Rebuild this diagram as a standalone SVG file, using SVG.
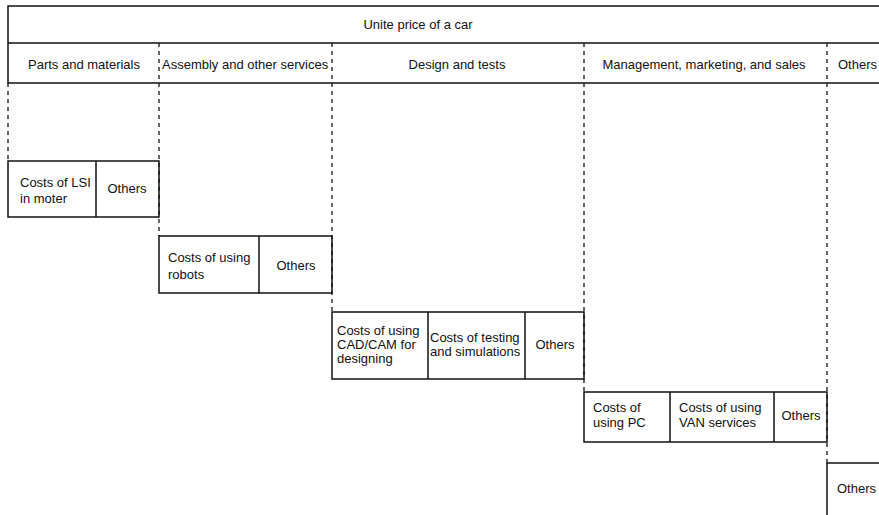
<svg xmlns="http://www.w3.org/2000/svg" width="879" height="515" viewBox="0 0 879 515">
<style>
text{font-family:"Liberation Sans",Arial,sans-serif;font-size:13px;fill:#111}
.m{text-anchor:middle}
.s{fill:none;stroke:#111;stroke-width:1.5}
.d{fill:none;stroke:#111;stroke-width:1.3;stroke-dasharray:4 4}
</style>
<rect width="879" height="515" fill="#fff"/>
<g id="header">
<path class="s" d="M879 6H8V83H879M8 43H879"/>
<text class="m" x="418" y="29">Unite price of a car</text>
<text class="m" x="84" y="69">Parts and materials</text>
<text x="162" y="69">Assembly and other services</text>
<text class="m" x="457" y="69">Design and tests</text>
<text class="m" x="704" y="69">Management, marketing, and sales</text>
<text x="838" y="69">Others</text>
</g>
<g id="connectors">
<path class="d" d="M8 83V160M159 43V236M332 43V312M584 43V392M827 43V463"/>
</g>
<g id="n1">
<rect class="s" x="8" y="161" width="151" height="56"/>
<path class="s" d="M96 161V217"/>
<text x="20" y="187">Costs of LSI</text>
<text x="20" y="203">in moter</text>
<text class="m" x="127" y="193">Others</text>
</g>
<g id="n2">
<rect class="s" x="159" y="236" width="173" height="57"/>
<path class="s" d="M259 236V293"/>
<text x="168" y="262">Costs of using</text>
<text x="168" y="279">robots</text>
<text class="m" x="296" y="270">Others</text>
</g>
<g id="n3">
<rect class="s" x="332" y="312" width="252" height="67"/>
<path class="s" d="M428 312V379M525 312V379"/>
<text x="337" y="335">Costs of using</text>
<text x="337" y="349">CAD/CAM for</text>
<text x="337" y="363">designing</text>
<text x="430" y="342">Costs of testing</text>
<text x="430" y="356">and simulations</text>
<text class="m" x="555" y="349">Others</text>
</g>
<g id="n4">
<rect class="s" x="584" y="392" width="243" height="50"/>
<path class="s" d="M670 392V442M774 392V442"/>
<text x="593" y="412">Costs of</text>
<text x="593" y="427">using PC</text>
<text x="679" y="412">Costs of using</text>
<text x="679" y="427">VAN services</text>
<text class="m" x="801" y="420">Others</text>
</g>
<g id="n5">
<path class="s" d="M879 463H827V515"/>
<text x="837" y="493">Others</text>
</g>
</svg>
